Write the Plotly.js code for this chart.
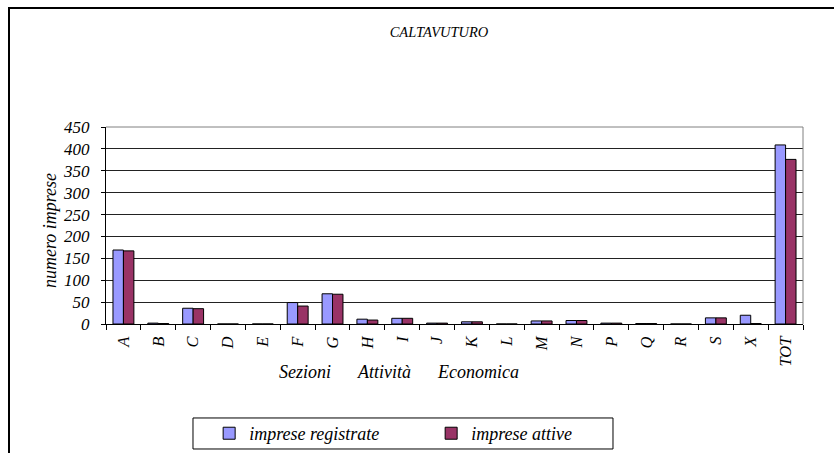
<!DOCTYPE html>
<html>
<head>
<meta charset="utf-8">
<script src="https://cdn.plot.ly/plotly-3.0.1.min.js"></script>
<style>
html,body{margin:0;padding:0;background:#fff;}
#wrap{position:relative;width:834px;height:453px;overflow:hidden;}
#chart{position:absolute;left:0;top:0;width:834px;height:453px;}
#frame{position:absolute;left:8px;top:7px;width:900px;height:600px;border:2px solid #000;box-sizing:border-box;pointer-events:none;}
</style>
</head>
<body>
<div id="wrap"><div id="chart"></div><div id="frame"></div></div>
<script>
var categories = ["A","B","C","D","E","F","G","H","I","J","K","L","M","N","P","Q","R","S","X","TOT"];
var registrate = [169, 2, 36, 0, 0, 49, 69, 11, 13, 2, 5, 0, 7, 8, 2, 1, 0, 14, 20, 409];
var attive     = [167, 1, 35, 0, 0, 41, 68, 9, 13, 2, 5, 0, 7, 8, 2, 1, 0, 14, 1, 376];
var yTicks = [0, 50, 100, 150, 200, 250, 300, 350, 400, 450];

var fam = "Liberation Serif, Times New Roman, serif";
var sp = "\u00a0\u00a0\u00a0\u00a0\u00a0\u00a0";

var traces = [
  {type: "bar", name: "imprese registrate", x: categories, y: registrate,
   marker: {color: "#9999FF", line: {color: "#000", width: 1}}},
  {type: "bar", name: "imprese attive", x: categories, y: attive,
   marker: {color: "#993366", line: {color: "#000", width: 1}}}
];

var layout = {
  width: 834, height: 453,
  margin: {l: 106, r: 31, t: 127, b: 129, autoexpand: false},
  paper_bgcolor: "#fff", plot_bgcolor: "#fff",
  barmode: "group", bargap: 0.40, bargroupgap: 0,
  font: {family: fam, color: "#000", size: 14},
  title: {text: "CALTAVUTURO", xref: "container", x: 0.5264, xanchor: "center",
          yref: "container", y: 0.929, yanchor: "middle",
          font: {family: fam, size: 14.5, color: "#000", style: "italic"}},
  showlegend: true,
  legend: {orientation: "h", x: 0.148, xanchor: "left", y: -0.556, yanchor: "middle",
           borderwidth: 0, bgcolor: "rgba(0,0,0,0)",
           font: {family: fam, size: 18, color: "#000", style: "italic"},
           itemwidth: 30, entrywidth: 177, traceorder: "normal"},
  xaxis: {
    type: "category", tickangle: -90, tickson: "boundaries",
    ticks: "outside", ticklen: 5, tickcolor: "#000", ticklabelstandoff: 5,
    showline: true, linecolor: "#000", linewidth: 1,
    showgrid: false, automargin: false,
    tickfont: {family: fam, size: 16.5, color: "#000", style: "italic"}
  },
  yaxis: {
    range: [0, 450], tickvals: yTicks, ticktext: yTicks.map(String),
    ticks: "outside", ticklen: 4, tickcolor: "#000", ticklabelstandoff: 8,
    showline: true, linecolor: "#000", linewidth: 1,
    showgrid: true, gridcolor: "#222", gridwidth: 1,
    zeroline: false, automargin: false,
    tickfont: {family: fam, size: 17, color: "#000", style: "italic"}
  },
  annotations: [
    {text: "Sezioni" + sp + "Attività" + sp + "Economica", xref: "paper", yref: "paper",
     x: 0.421, y: -0.2437, xanchor: "center", yanchor: "middle", showarrow: false,
     font: {family: fam, size: 18, color: "#000", style: "italic"}},
    {text: "numero imprese", xref: "paper", yref: "paper", textangle: -90,
     x: -0.0803, y: 0.472, xanchor: "center", yanchor: "middle", showarrow: false,
     font: {family: fam, size: 18, color: "#000", style: "italic"}}
  ],
  shapes: [
    {type: "line", xref: "paper", yref: "paper", x0: 1, x1: 1, y0: 0, y1: 1,
     line: {color: "#808080", width: 1}},
    {type: "line", xref: "paper", yref: "paper", x0: 0, x1: 1, y0: 1, y1: 1,
     line: {color: "#808080", width: 1}},
    {type: "rect", xref: "paper", yref: "paper", x0: 0.1248, x1: 0.7274, y0: -0.6345, y1: -0.477,
     line: {color: "#000", width: 1}, fillcolor: "rgba(0,0,0,0)"}
  ]
};

Plotly.newPlot("chart", traces, layout, {displayModeBar: false, staticPlot: true});
</script>
</body>
</html>
